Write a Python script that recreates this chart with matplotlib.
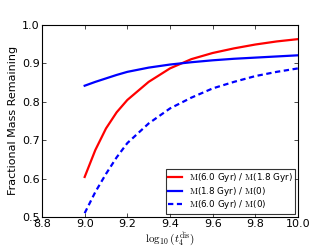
import matplotlib
matplotlib.use("Agg")
import matplotlib.pyplot as plt

x = [9.0, 9.05, 9.1, 9.15, 9.2, 9.3, 9.4, 9.5, 9.6, 9.7, 9.8, 9.9, 10.0]
red = [0.604, 0.674, 0.730, 0.772, 0.804, 0.851, 0.886, 0.910, 0.926, 0.938, 0.948, 0.956, 0.962]
blue = [0.841, 0.851, 0.860, 0.869, 0.877, 0.888, 0.896, 0.902, 0.907, 0.911, 0.914, 0.917, 0.920]
blue_dash = [0.510, 0.565, 0.612, 0.655, 0.692, 0.743, 0.782, 0.810, 0.834, 0.851, 0.866, 0.877, 0.886]

labels = [r"$\mathrm{M}$(6.0 Gyr) / $\mathrm{M}$(1.8 Gyr)",
          r"$\mathrm{M}$(1.8 Gyr) / $\mathrm{M}$(0)",
          r"$\mathrm{M}$(6.0 Gyr) / $\mathrm{M}$(0)"]

plt.rcParams['font.family'] = ['DejaVu Sans']
plt.rcParams['mathtext.fontset'] = 'cm'
plt.rcParams['xtick.direction'] = 'in'
plt.rcParams['ytick.direction'] = 'in'
plt.rcParams['xtick.top'] = True
plt.rcParams['ytick.right'] = True

fig = plt.figure(figsize=(3.32, 2.49), dpi=100)
ax = fig.add_axes([42/332, 32/249, 256/332, 192.5/249])
ax.plot(x, red, color='red', lw=1.6, label=labels[0])
ax.plot(x, blue, color='blue', lw=1.6, label=labels[1])
ax.plot(x, blue_dash, color='blue', lw=1.6, ls=(0, (2.4, 1.6)), label=labels[2])
ax.set_xlim(8.8, 10.0)
ax.set_ylim(0.5, 1.0)
ax.set_xticks([8.8, 9.0, 9.2, 9.4, 9.6, 9.8, 10.0])
ax.set_yticks([0.5, 0.6, 0.7, 0.8, 0.9, 1.0])
ax.tick_params(labelsize=8, length=3, width=0.5, pad=1.5)
for s in ax.spines.values():
    s.set_linewidth(0.8)
ax.set_ylabel("Fractional Mass Remaining", fontsize=8, labelpad=3)
ax.set_xlabel(r"$\log_{10}(t_4^{\rm dis})$", fontsize=8, labelpad=1)
leg = ax.legend(loc='lower right', fontsize=6.3, fancybox=False, edgecolor='black',
                handlelength=1.6, labelspacing=0.05, borderaxespad=0.35,
                borderpad=0.3, handletextpad=0.7)
leg.get_frame().set_linewidth(0.8)
fig.savefig("out.png", dpi=100)
